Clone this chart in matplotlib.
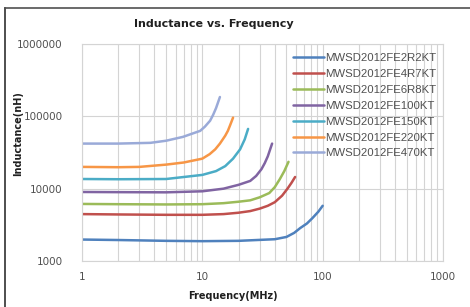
import matplotlib
matplotlib.use("Agg")
import matplotlib.pyplot as plt
from matplotlib.ticker import FixedLocator, NullFormatter, FixedFormatter

# series names
names = ["MWSD2012FE2R2KT", "MWSD2012FE4R7KT", "MWSD2012FE6R8KT", "MWSD2012FE100KT",
         "MWSD2012FE150KT", "MWSD2012FE220KT", "MWSD2012FE470KT"]

# frequency (MHz) / inductance (nH)
f_2r2 = [1, 2, 5, 10, 20, 40, 50, 58, 65, 74, 82, 92, 100]
l_2r2 = [1980, 1950, 1900, 1880, 1900, 2000, 2150, 2450, 2850, 3300, 3900, 4800, 5800]

f_4r7 = [1, 2, 5, 10, 15, 20, 25, 30, 35, 40, 46, 51, 55, 59]
l_4r7 = [4450, 4400, 4350, 4350, 4450, 4650, 4900, 5300, 5800, 6500, 8000, 10000, 12000, 14500]

f_6r8 = [1, 2, 5, 10, 15, 20, 25, 30, 36, 40, 44, 48, 52]
l_6r8 = [6150, 6100, 6050, 6100, 6300, 6600, 6900, 7600, 8700, 10500, 13500, 17500, 23500]

f_100 = [1, 2, 5, 10, 15, 20, 25, 28, 31, 33, 35, 38]
l_100 = [9000, 8950, 8900, 9200, 10000, 11300, 12800, 15000, 18600, 22500, 28000, 42000]

f_150 = [1, 2, 5, 10, 13, 15.5, 18, 20.6, 22.5, 24]
l_150 = [13600, 13500, 13600, 15500, 17500, 20500, 26000, 35000, 48000, 67000]

f_220 = [1, 2, 3, 5, 7, 10, 11.5, 12.8, 14, 15.5, 16.3, 17, 18]
l_220 = [20000, 19800, 20000, 21500, 23000, 26000, 30000, 35000, 42000, 54000, 63000, 75000, 96000]

f_470 = [1, 2, 3.7, 5, 6.9, 9.6, 10.5, 11.6, 12.3, 13, 14]
l_470 = [42000, 42000, 43000, 46000, 52000, 63000, 72000, 87000, 105000, 130000, 185000]

freqs = [f_2r2, f_4r7, f_6r8, f_100, f_150, f_220, f_470]
vals = [l_2r2, l_4r7, l_6r8, l_100, l_150, l_220, l_470]
colors = ["#4F81BD", "#C0504D", "#9BBB59", "#8064A2", "#4BACC6", "#F79646", "#9AAAD8"]

xticks = [1, 10, 100, 1000]
yticks = [1000, 10000, 100000, 1000000]

fig = plt.figure(figsize=(4.7, 3.07), dpi=100)
ax = fig.add_axes([82/470, 1-261/307, (443-82)/470, (261-44)/307])

for f, l, c, n in zip(freqs, vals, colors, names):
    ax.plot(f, l, color=c, lw=1.8, label=n, solid_capstyle="round")

ax.set_xscale("log")
ax.set_yscale("log")
ax.set_xlim(1, 1000)
ax.set_ylim(1000, 1000000)

minor_x = [m * 10**d for d in range(0, 3) for m in range(2, 10)]
ax.xaxis.set_minor_locator(FixedLocator(minor_x))
ax.xaxis.set_minor_formatter(NullFormatter())
ax.yaxis.set_minor_locator(FixedLocator([]))
ax.xaxis.set_major_locator(FixedLocator(xticks))
ax.xaxis.set_major_formatter(FixedFormatter([str(t) for t in xticks]))
ax.yaxis.set_major_locator(FixedLocator(yticks))
ax.yaxis.set_major_formatter(FixedFormatter([str(t) for t in yticks]))

ax.grid(True, which="major", color="#D4D4D4", lw=0.8)
ax.grid(True, which="minor", axis="x", color="#D4D4D4", lw=0.8)
ax.set_axisbelow(True)
for s in ax.spines.values():
    s.set_color("#D4D4D4")
ax.tick_params(which="both", length=0, labelsize=7.5, labelcolor="#505050")
ax.tick_params(axis="x", pad=8)
ax.tick_params(axis="y", pad=14)

leg = ax.legend(loc="upper left", bbox_to_anchor=(0.572, 0.98), frameon=False,
                prop={"family": "Liberation Sans", "size": 8.2}, handlelength=2.7,
                handletextpad=0.1, labelspacing=0.52, borderaxespad=0)
for t in leg.get_texts():
    t.set_color("#505050")

fig.text(214/470, 1-24/307, "Inductance vs. Frequency", ha="center", va="center",
         fontsize=8, fontweight="bold", color="#202020")
fig.text(233/470, 1-296/307, "Frequency(MHz)", ha="center", va="center",
         fontsize=7, fontweight="bold", color="#202020")
fig.text(18/470, 1-134/307, "Inductance(nH)", ha="center", va="center", rotation=90,
         fontsize=7, fontweight="bold", color="#202020")

# outer frame of the chart
fig.add_artist(plt.Line2D([4.5/470, 4.5/470], [0, 1-8/307], color="#303030", lw=1.2))
fig.add_artist(plt.Line2D([4.5/470, 1], [1-8/307, 1-8/307], color="#505050", lw=1.2))

fig.savefig("out.png", dpi=100)
